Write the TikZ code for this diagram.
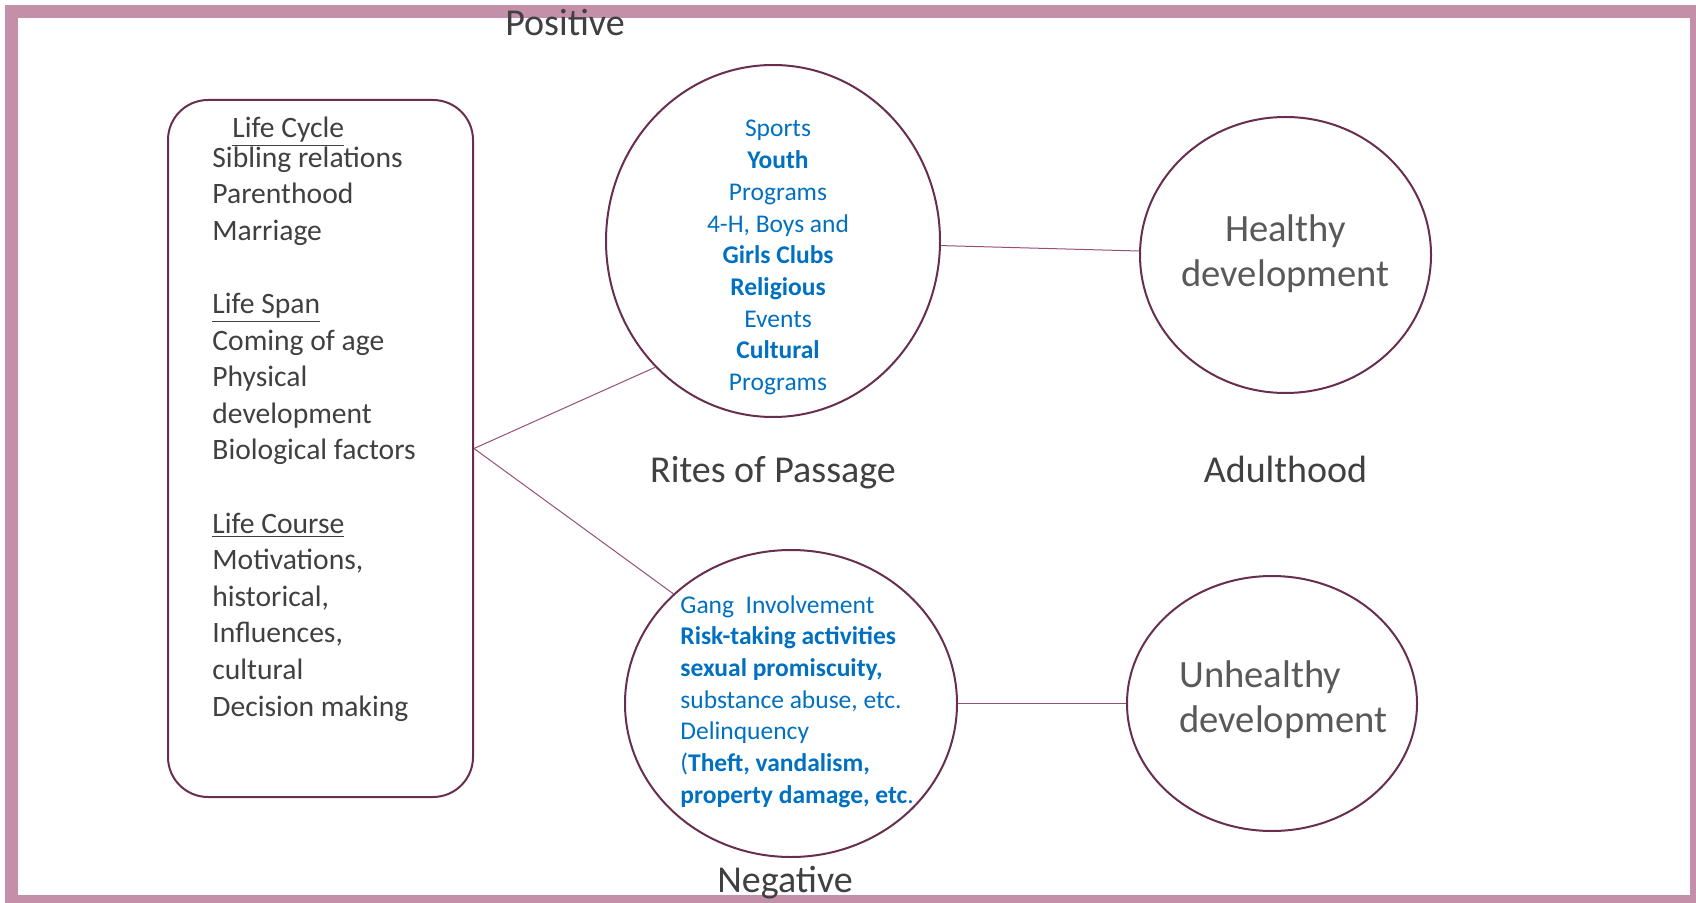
\documentclass[tikz,border=0pt]{standalone}
\usepackage{fontspec}
\setmainfont{Carlito}
\usetikzlibrary{positioning,shapes.geometric}
\definecolor{framepink}{RGB}{196,143,169}
\definecolor{rimpurple}{RGB}{104,46,78}
\definecolor{linkpurple}{RGB}{150,80,118}
\definecolor{itemblue}{RGB}{0,112,192}
\definecolor{txtgray}{RGB}{64,64,64}
\definecolor{softgray}{RGB}{89,89,89}
\tikzset{
ring/.style 2 args={
  ellipse,
  draw=rimpurple,
  line width=1pt,
  minimum width=#1,
  minimum height=#2,
  inner sep=0pt
  },
heading/.style={
  text=txtgray,
  font=\fontsize{19}{22}\selectfont,
  inner sep=0pt
  },
stagelist/.style={
  text=itemblue,
  font=\fontsize{12.75}{15.85}\selectfont,
  inner sep=0pt
  },
outcome/.style={
  text=softgray,
  font=\fontsize{19.3}{22.5}\selectfont,
  inner sep=0pt
  },
link/.style={
  draw=linkpurple,
  line width=0.5pt
  }
}

\begin{document}
\begin{tikzpicture}[x=0.5pt,y=-0.5pt]

\useasboundingbox (0,0) rectangle (1696,903);
\clip (0,0) rectangle (1696,903);

\draw[framepink,line width=6.5pt] (11.5,12) rectangle (1696.5,901.5);

\node[rectangle,rounded corners=20pt,draw=rimpurple,line width=1pt,
  minimum width=152.5pt,minimum height=348.5pt,inner sep=0pt]
at (320.5,448.5)
(lifebox) {};

\node[anchor=north west,align=left,text=txtgray,inner sep=0pt,
  font=\fontsize{14.8}{18.3}\selectfont]
at (212,117)
(lifetxt)
{
  \hspace*{10pt}\underline{Life Cycle}\\[-3.75pt]
  Sibling relations\\
  Parenthood\\
  Marriage\\[18.3pt]
  \underline{Life Span}\\
  Coming of age\\
  Physical\\
  development\\
  Biological factors\\[18.3pt]
  \underline{Life Course}\\
  Motivations,\\
  historical,\\
  Influences,\\
  cultural\\
  Decision making
};

\node[ring={167pt}{176pt}] at (773,241) (pos) {};

\node[ring={166pt}{153.5pt}] at (791,703.5) (neg) {};

\node[ring={145.5pt}{138pt}] at (1285.5,255) (healthy) {};

\node[ring={145pt}{127.5pt}] at (1272,703.5) (unhealthy) {};

\node[stagelist,anchor=north,align=center] at (778,120) (postxt)
{
  Sports\\
  \textbf{Youth}\\
  Programs\\
  4-H, Boys and\\
  \textbf{Girls Clubs}\\
  \textbf{Religious}\\
  Events\\
  \textbf{Cultural}\\
  Programs
};

\node[stagelist,anchor=north west,align=left] at (680,595) (negtxt)
{
  Gang\ \ Involvement\\
  \textbf{Risk-taking activities}\\
  \textbf{sexual promiscuity,}\\
  substance abuse, etc.\\
  Delinquency\\
  (\textbf{Theft, vandalism,}\\
  \textbf{property damage, etc}.
};

\node[outcome,anchor=north,align=center] at (1285.5,214) (healthytxt)
{
  Healthy\\
  development
};

\node[outcome,anchor=north west,align=left] at (1179,660) (unhealthytxt)
{
  Unhealthy\\
  development
};

\node[heading,anchor=base] at (565,36) (positive) {Positive};

\node[heading,anchor=base] at (773,482) (rites) {Rites of Passage};

\node[heading,anchor=base] at (healthy |- rites.base) (adult) {Adulthood};

\node[heading,anchor=base] at (785,892) (negative) {Negative};

\draw[link] (lifebox.east) -- (pos.227);
\draw[link] (lifebox.east) -- (neg.137);
\draw[link] (pos) -- (healthy);
\draw[link] (neg) -- (unhealthy);

\end{tikzpicture}
\end{document}
